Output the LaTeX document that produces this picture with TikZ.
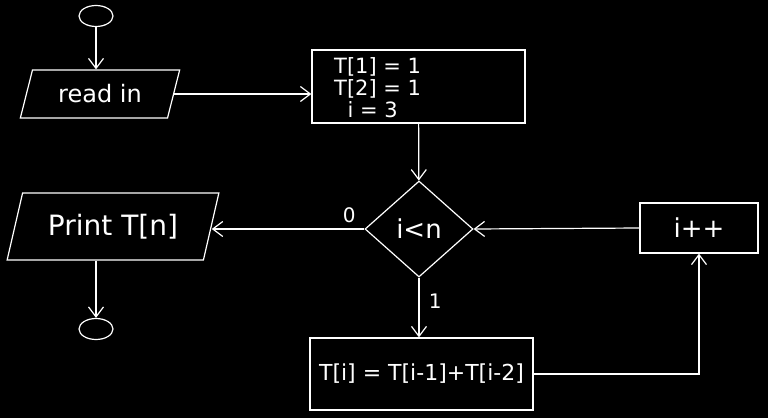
\documentclass[tikz,border=0pt]{standalone}
\usepackage{fontspec}
\setmainfont{DejaVu Sans}
\usetikzlibrary{shapes.geometric,arrows.meta}
\begin{document}
\begin{tikzpicture}[x=1pt,y=-1pt,
  lbl/.style={text=white, font=\fontsize{20}{22}\selectfont},
  term/.style={ellipse, draw=white, line width=1.2pt, minimum width=34pt, minimum height=21pt, inner sep=0pt},
  io/.style={trapezium, trapezium left angle=68, trapezium right angle=112, trapezium stretches=true, draw=white, line width=1.2pt, text=white, inner sep=0pt},
  procbox/.style={rectangle, draw=white, line width=1.2pt, text=white, inner sep=0pt},
  decide/.style={diamond, draw=white, line width=1.2pt, text=white, inner sep=0pt, minimum width=108pt, minimum height=96pt},
  arr/.style={draw=white, line width=1.2pt, -{Straight Barb[length=10pt,width=15pt,line width=1.2pt]}}
]
\fill[black] (0,0) rectangle (768,418);
\useasboundingbox (0,0) rectangle (768,418);

\node[term] (start) at (96,16) {};
\node[io, minimum width=160pt, minimum height=48pt, font=\fontsize{24}{26}\selectfont] (read) at (100,94) {read in};
\node[procbox, minimum width=213pt, minimum height=73pt] (init) at (418.5,86.5) {};
\node[text=white, font=\fontsize{21}{22}\selectfont, align=left, anchor=north west, inner sep=0pt] (inittxt) at (334,57) {T[1] = 1\\T[2] = 1\\\ \ i = 3};
\node[decide, font=\fontsize{26}{28}\selectfont] (dia) at (419,229) {i<n};
\node[io, trapezium left angle=66, trapezium right angle=114, minimum width=212pt, minimum height=67pt, font=\fontsize{28}{30}\selectfont] (print) at (113,226.5) {Print T[n]};
\node[term] (stop) at (96,329) {};
\node[procbox, minimum width=118pt, minimum height=50pt, font=\fontsize{26}{28}\selectfont] (inc) at (699,228) {i++};
\node[procbox, minimum width=223pt, minimum height=72pt, font=\fontsize{22}{24}\selectfont] (calc) at (421.5,374) {T[i] = T[i-1]+T[i-2]};

\draw[arr] (start) -- (start |- read.north);
\draw[arr] (read.east) -- (init.west |- read.east);
\draw[arr] (init) -- (dia);
\draw[arr] (dia.west) -- node[lbl, above, pos=0.1, yshift=2pt] (l0) {0} (print.east |- dia.west);
\draw[arr] (stop |- print.south) -- (stop);
\draw[arr] (dia.south) -- node[lbl, right, pos=0.4, xshift=6pt] (l1) {1} (dia.south |- calc.north);
\draw[arr] (calc.east) -| (inc.south);
\draw[arr] (inc.west) -- (dia.east);
\end{tikzpicture}
\end{document}
